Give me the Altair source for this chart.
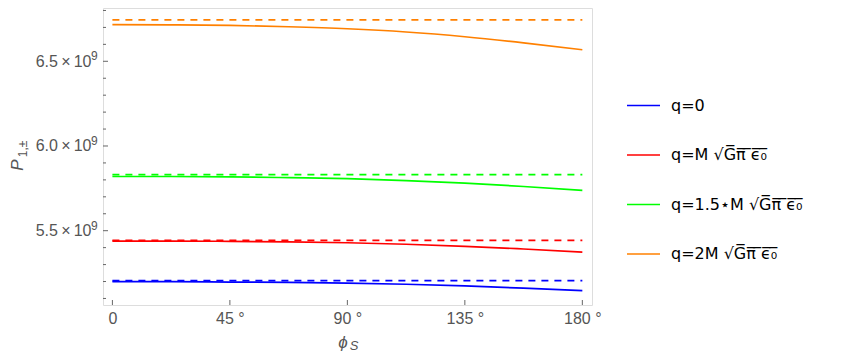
import altair as alt
import pandas as pd

# ---- data (values in units of 1e9) ----
phi = [0, 22.5, 45, 67.5, 90, 112.5, 135, 157.5, 180]
p_q0 = [5.199, 5.199, 5.197, 5.195, 5.191, 5.184, 5.174, 5.161, 5.146]
p_q1 = [5.439, 5.439, 5.437, 5.434, 5.429, 5.420, 5.408, 5.392, 5.374]
p_q15 = [5.820, 5.820, 5.818, 5.813, 5.807, 5.796, 5.781, 5.761, 5.738]
p_q2 = [6.716, 6.715, 6.712, 6.704, 6.692, 6.673, 6.645, 6.609, 6.568]
dash_phi = [0, 180]
dash_q0 = 5.205
dash_q1 = 5.443
dash_q15 = 5.831
dash_q2 = 6.745

OL = "\u0305"
def over(s):
    return "".join(c + OL for c in s)

series_names = [
    "q=0",
    "q=M √" + over("Gπ ϵ₀"),
    "q=1.5⋆M √" + over("Gπ ϵ₀"),
    "q=2M √" + over("Gπ ϵ₀"),
]
colors = ["#0000ff", "#ff0000", "#00ff00", "#ff8000"]

x_ticks = [0, 45, 90, 135, 180]
y_major = [5.5, 6.0, 6.5]
y_minor = [5.1, 5.2, 5.3, 5.4, 5.6, 5.7, 5.8, 5.9, 6.1, 6.2, 6.3, 6.4, 6.6, 6.7, 6.8]
y_exponent = "9"

solid_rows = []
for name, vals in zip(series_names, [p_q0, p_q1, p_q15, p_q2]):
    for a, v in zip(phi, vals):
        solid_rows.append({"series": name, "phi": a, "P": v})
df_solid = pd.DataFrame(solid_rows)

dash_rows = []
for name, v in zip(series_names, [dash_q0, dash_q1, dash_q15, dash_q2]):
    for a in dash_phi:
        dash_rows.append({"series": name, "phi": a, "P": v})
df_dash = pd.DataFrame(dash_rows)

df_ymaj = pd.DataFrame({"v": y_major, "e": [y_exponent] * len(y_major)})
df_ymin = pd.DataFrame({"v": y_minor})
df_xt = pd.DataFrame({"v": x_ticks})

W, H = 489, 297
GREY = "#666666"
LABEL = "#555555"
FONT = "Liberation Sans"

xscale = alt.Scale(domain=[-3.6, 183.7], nice=False, zero=False)
yscale = alt.Scale(domain=[5.0614, 6.8146], nice=False, zero=False)

x_axis = alt.Axis(
    values=x_ticks,
    labelExpr="datum.value == 0 ? '0' : datum.value + ' °'",
    ticks=False, domain=False, grid=False,
    labelFontSize=16, labelColor=LABEL, labelFont=FONT, labelPadding=5,
    title=None,
)
y_axis = alt.Axis(
    values=y_major,
    labelExpr="format(datum.value, '.1f') + '\u2009×\u200910'",
    ticks=False, domain=False, grid=False,
    labelFontSize=16, labelColor=LABEL, labelFont=FONT, labelPadding=12,
    title=None,
)

color_scale = alt.Scale(domain=series_names, range=colors)
legend = alt.Legend(
    title=None, orient="none", legendX=523, legendY=80,
    symbolType="stroke", symbolSize=1089, symbolStrokeWidth=1.7,
    labelFontSize=16, labelFont="DejaVu Sans", labelColor="#000000",
    labelOffset=10, rowPadding=23.5, labelLimit=400,
)

solid = alt.Chart(df_solid).mark_line(strokeWidth=1.7, interpolate="monotone").encode(
    x=alt.X("phi:Q", scale=xscale, axis=x_axis),
    y=alt.Y("P:Q", scale=yscale, axis=y_axis),
    color=alt.Color("series:N", scale=color_scale, sort=series_names, legend=legend),
)

dashed = alt.Chart(df_dash).mark_line(strokeWidth=1.7, strokeDash=[7, 6]).encode(
    x=alt.X("phi:Q", scale=xscale),
    y=alt.Y("P:Q", scale=yscale),
    color=alt.Color("series:N", scale=color_scale, sort=series_names, legend=legend),
)

ymaj = alt.Chart(df_ymaj).mark_rule(color=GREY, strokeWidth=1).encode(
    y=alt.Y("v:Q", scale=yscale), x=alt.value(0), x2=alt.value(5)
)
yexp = alt.Chart(df_ymaj).mark_text(
    color=LABEL, font=FONT, fontSize=12, align="left", baseline="alphabetic", dx=0, dy=-1
).encode(y=alt.Y("v:Q", scale=yscale), x=alt.value(-12), text="e:N")
ymin = alt.Chart(df_ymin).mark_rule(color=GREY, strokeWidth=1).encode(
    y=alt.Y("v:Q", scale=yscale), x=alt.value(0), x2=alt.value(3)
)
xt = alt.Chart(df_xt).mark_rule(color=GREY, strokeWidth=1).encode(
    x=alt.X("v:Q", scale=xscale), y=alt.value(H), y2=alt.value(H - 5)
)

# axis titles: phi_S and P_{1,±}
xt_main = alt.Chart(pd.DataFrame({"t": ["ϕ"]})).mark_text(
    color=LABEL, font=FONT, fontSize=17, fontStyle="italic", align="center", baseline="middle"
).encode(text="t:N", x=alt.value(240), y=alt.value(H + 38))
xt_sub = alt.Chart(pd.DataFrame({"t": ["S"]})).mark_text(
    color=LABEL, font=FONT, fontSize=13, fontStyle="italic", align="center", baseline="middle"
).encode(text="t:N", x=alt.value(251), y=alt.value(H + 41))
yt_main = alt.Chart(pd.DataFrame({"t": ["P"]})).mark_text(
    color=LABEL, font=FONT, fontSize=17, fontStyle="italic", align="center", baseline="middle", angle=270
).encode(text="t:N", x=alt.value(-85), y=alt.value(157))
yt_sub = alt.Chart(pd.DataFrame({"t": ["1,±"]})).mark_text(
    color=LABEL, font=FONT, fontSize=12, align="center", baseline="middle", angle=270
).encode(text="t:N", x=alt.value(-80), y=alt.value(141))

chart = alt.layer(
    ymaj, ymin, xt, yexp, xt_main, xt_sub, yt_main, yt_sub, dashed, solid
).properties(
    width=W, height=H,
    autosize=alt.AutoSizeParams(type="none"),
    padding={"left": 95, "top": 0, "right": 250, "bottom": 49},
).configure_view(stroke=GREY, strokeWidth=1.2).configure(background="white")

chart.save("out.html", embed_options={"renderer": "svg", "actions": False})
